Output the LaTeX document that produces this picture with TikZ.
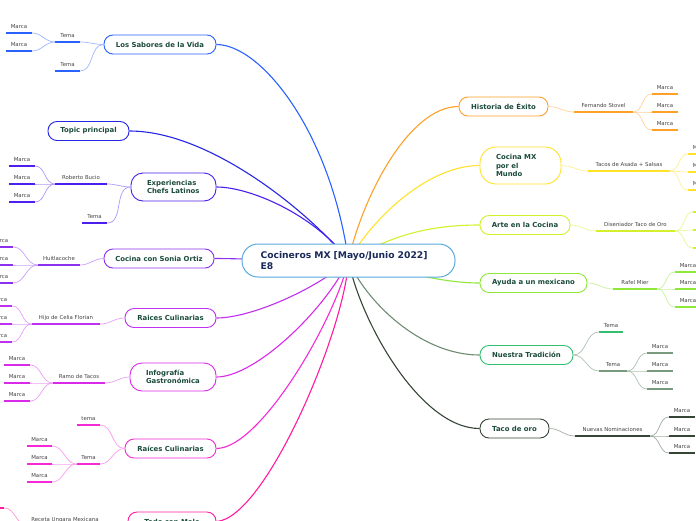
\documentclass[tikz,border=0pt]{standalone}
\usepackage{fontspec}
\setmainfont{DejaVu Sans}
\usetikzlibrary{calc,backgrounds}
\definecolor{cLS}{HTML}{2A62FF}
\definecolor{cTP}{HTML}{2626E6}
\definecolor{cEX}{HTML}{4C1EF0}
\definecolor{cSO}{HTML}{8C30F0}
\definecolor{cRA}{HTML}{C030F0}
\definecolor{cIN}{HTML}{D82AE8}
\definecolor{cRB}{HTML}{F52AD6}
\definecolor{cBT}{HTML}{FF1AA0}
\definecolor{cHI}{HTML}{FFA128}
\definecolor{cMX}{HTML}{FFE22A}
\definecolor{cAR}{HTML}{D4F02A}
\definecolor{cAY}{HTML}{8EE83A}
\definecolor{cNT}{HTML}{34C070}
\definecolor{cNG}{HTML}{7A9A80}
\definecolor{cTO}{HTML}{364636}
\definecolor{cCE}{HTML}{5AA9DC}
\definecolor{topictext}{HTML}{1B4B3B}
\definecolor{centertext}{HTML}{1A2A5A}
\definecolor{subtext}{HTML}{444444}
\tikzset{
  topic/.style={draw=#1, line width=0.9pt, rounded corners=9pt, fill=white, text=topictext,
    font=\fontsize{6.9}{8.4}\selectfont\bfseries, inner sep=0pt, minimum height=19pt, align=center},
  tall/.style={align=left, text width=#1, inner xsep=16pt, minimum height=28pt, rounded corners=12pt},
  subt/.style={inner sep=0pt, text height=4pt, text depth=4.8pt, font=\fontsize{5.4}{6}\selectfont, text=subtext, anchor=south},
  uline/.style={line width=1.5pt},
  mainlink/.style={line width=1.1pt},
  sublink/.style={line width=0.7pt},
}
\newcommand\SubN[6]{%
  \node[subt, minimum width={(#3)-(#2)}] (#1) at ({((#2)+(#3))/2},#4) {#5};
  \draw[uline,#6] (#1.south west) -- (#1.south east);
}
\begin{document}
\begin{tikzpicture}[x=1pt,y=-1pt]
\useasboundingbox (0,0) rectangle (696,520);
% central
\node[draw=cCE, line width=1pt, fill=white, rounded corners=16pt, text width=176pt, inner xsep=18.5pt,
  inner ysep=0pt, minimum height=33pt, align=left, font=\fontsize{9.2}{10.6}\selectfont\bfseries, text=centertext]
  (c) at (348.5,260.5) {Cocineros MX [Mayo/Junio 2022]\\E8};
% left topics
\node[topic=cLS, minimum width=112pt] (ls) at (160,44.5) {Los Sabores de la Vida};
\node[topic=cTP, minimum width=81pt] (tp) at (88.5,131) {Topic principal};
\node[topic=cEX, tall=53pt] (ex) at (173.5,187) {Experiencias\\Chefs Latinos};
\node[topic=cSO, minimum width=110pt] (so) at (159,258.5) {Cocina con Sonia Ortiz};
\node[topic=cRA, minimum width=91pt] (ra) at (170.5,318) {Raices Culinarias};
\node[topic=cIN, tall=54pt] (in) at (173,377) {Infografía\\Gastronómica};
\node[topic=cRB, minimum width=91pt] (rb) at (170.5,448.5) {Raíces Culinarias};
\node[topic=cBT, minimum width=88pt] (bt) at (172,521.5) {Todo con Mole};
% right topics
\node[topic=cHI, minimum width=89pt] (hi) at (503.5,106.5) {Historia de Éxito};
\node[topic=cMX, align=left, text width=49pt, inner xsep=16pt, minimum height=37pt, rounded corners=16pt] (mx) at (520.5,165.5) {Cocina MX\\por el\\Mundo};
\node[topic=cAR, minimum width=90pt] (ar) at (525,225) {Arte en la Cocina};
\node[topic=cAY, minimum width=107pt] (ay) at (533.5,283) {Ayuda a un mexicano};
\node[topic=cNT, minimum width=93pt] (nt) at (526.5,355) {Nuestra Tradición};
\node[topic=cTO, minimum width=69pt] (to) at (514.5,428.5) {Taco de oro};
% main links
\begin{scope}[on background layer]
\fill[white] (0,0) rectangle (696,520);
\draw[mainlink,cLS] (ls.east) .. controls ($(ls.east)+(44,0)$) and (330,130) .. (c.center);
\draw[mainlink,cTP] (tp.east) .. controls ($(tp.east)+(80,0)$) and (308,211) .. (c.center);
\draw[mainlink,cEX] (ex.east) .. controls ($(ex.east)+(34,0)$) and (315,215) .. (c.center);
\draw[mainlink,cSO] (so.east) .. controls ($(so.east)+(26,0)$) and (300,261) .. (c.center);
\draw[mainlink,cRA] (ra.east) .. controls ($(ra.east)+(34,0)$) and (315,290) .. (c.center);
\draw[mainlink,cIN] (in.east) .. controls ($(in.east)+(39,0)$) and (325,310) .. (c.center);
\draw[mainlink,cRB] (rb.east) .. controls ($(rb.east)+(44,0)$) and (335,320) .. (c.center);
\draw[mainlink,cBT] (bt.east) .. controls ($(bt.east)+(49,-3)$) and (345,330) .. (c.center);
\draw[mainlink,cHI] (hi.west) .. controls ($(hi.west)+(-49,0)$) and (363,195) .. (c.center);
\draw[mainlink,cMX] (mx.west) .. controls ($(mx.west)+(-50,0)$) and (375,215) .. (c.center);
\draw[mainlink,cAR] (ar.west) .. controls ($(ar.west)+(-60,0)$) and (385,240) .. (c.center);
\draw[mainlink,cAY] (ay.west) .. controls ($(ay.west)+(-40,0)$) and (400,270) .. (c.center);
\draw[mainlink,cNG!90!black] (nt.west) .. controls ($(nt.west)+(-60,0)$) and (365,300) .. (c.center);
\draw[mainlink,cTO] (to.west) .. controls ($(to.west)+(-60,0)$) and (360,320) .. (c.center);
\end{scope}
% ---- sub topics left
\SubN{lsA}{55}{80}{42}{Tema}{cLS}
\SubN{lsA1}{6}{32}{33}{Marca}{cLS}
\SubN{lsA2}{6}{32}{51}{Marca}{cLS}
\SubN{lsB}{55}{80}{71}{Tema}{cLS}
\draw[sublink,cLS!45] (ls.west) to[out=180,in=0] (lsA.south east);
\draw[sublink,cLS!45] (ls.west) to[out=180,in=0] (lsB.south east);
\draw[sublink,cLS!45] (lsA.south west) to[out=180,in=0] (lsA1.south east);
\draw[sublink,cLS!45] (lsA.south west) to[out=180,in=0] (lsA2.south east);
\SubN{exA}{55}{107}{184}{Roberto Bucio}{cEX}
\SubN{exA1}{9}{35}{166}{Marca}{cEX}
\SubN{exA2}{9}{35}{184}{Marca}{cEX}
\SubN{exA3}{9}{35}{202}{Marca}{cEX}
\SubN{exB}{82}{107}{223}{Tema}{cEX}
\draw[sublink,cEX!45] (ex.west) to[out=180,in=0] (exA.south east);
\draw[sublink,cEX!45] (ex.west) to[out=180,in=0] (exB.south east);
\draw[sublink,cEX!45] (exA.south west) to[out=180,in=0] (exA1.south east);
\draw[sublink,cEX!45] (exA.south west) to[out=180,in=0] (exA2.south east);
\draw[sublink,cEX!45] (exA.south west) to[out=180,in=0] (exA3.south east);
\SubN{soA}{38}{80}{265}{Huitlacoche}{cSO}
\SubN{soA1}{-13}{13}{247}{Marca}{cSO}
\SubN{soA2}{-13}{13}{265}{Marca}{cSO}
\SubN{soA3}{-13}{13}{283}{Marca}{cSO}
\draw[sublink,cSO!45] (so.west) to[out=180,in=0] (soA.south east);
\draw[sublink,cSO!45] (soA.south west) to[out=180,in=0] (soA1.south east);
\draw[sublink,cSO!45] (soA.south west) to[out=180,in=0] (soA2.south east);
\draw[sublink,cSO!45] (soA.south west) to[out=180,in=0] (soA3.south east);
\SubN{raA}{32}{100}{324}{Hijo de Celia Florian}{cRA}
\SubN{raA1}{-14}{12}{306}{Marca}{cRA}
\SubN{raA2}{-14}{12}{324}{Marca}{cRA}
\SubN{raA3}{-14}{12}{342}{Marca}{cRA}
\draw[sublink,cRA!45] (ra.west) to[out=180,in=0] (raA.south east);
\draw[sublink,cRA!45] (raA.south west) to[out=180,in=0] (raA1.south east);
\draw[sublink,cRA!45] (raA.south west) to[out=180,in=0] (raA2.south east);
\draw[sublink,cRA!45] (raA.south west) to[out=180,in=0] (raA3.south east);
\SubN{inA}{53}{105}{383}{Ramo de Tacos}{cIN}
\SubN{inA1}{4}{30}{365}{Marca}{cIN}
\SubN{inA2}{4}{30}{383}{Marca}{cIN}
\SubN{inA3}{4}{30}{401}{Marca}{cIN}
\draw[sublink,cIN!45] (in.west) to[out=180,in=0] (inA.south east);
\draw[sublink,cIN!45] (inA.south west) to[out=180,in=0] (inA1.south east);
\draw[sublink,cIN!45] (inA.south west) to[out=180,in=0] (inA2.south east);
\draw[sublink,cIN!45] (inA.south west) to[out=180,in=0] (inA3.south east);
\SubN{rbA}{77}{100}{425}{tema}{cRB}
\SubN{rbB}{77}{100}{464}{Tema}{cRB}
\SubN{rbB1}{27}{52}{446}{Marca}{cRB}
\SubN{rbB2}{27}{52}{464}{Marca}{cRB}
\SubN{rbB3}{27}{52}{482}{Marca}{cRB}
\draw[sublink,cRB!45] (rb.west) to[out=180,in=0] (rbA.south east);
\draw[sublink,cRB!45] (rb.west) to[out=180,in=0] (rbB.south east);
\draw[sublink,cRB!45] (rbB.south west) to[out=180,in=0] (rbB1.south east);
\draw[sublink,cRB!45] (rbB.south west) to[out=180,in=0] (rbB2.south east);
\draw[sublink,cRB!45] (rbB.south west) to[out=180,in=0] (rbB3.south east);
\SubN{btA}{28}{102}{526}{Receta Ungara Mexicana}{cBT}
\SubN{btA1}{-22}{4}{508}{Marca}{cBT}
\draw[sublink,cBT!45] (bt.west) to[out=180,in=0] (btA.south east);
\draw[sublink,cBT!45] (btA.south west) to[out=180,in=0] (btA1.south east);
% ---- sub topics right
\SubN{hiA}{574}{633}{112}{Fernando Stovel}{cHI}
\SubN{hiA1}{652}{678}{94}{Marca}{cHI}
\SubN{hiA2}{652}{678}{112}{Marca}{cHI}
\SubN{hiA3}{652}{678}{130}{Marca}{cHI}
\draw[sublink,cHI!45] (hi.east) to[out=0,in=180] (hiA.south west);
\draw[sublink,cHI!45] (hiA.south east) to[out=0,in=180] (hiA1.south west);
\draw[sublink,cHI!45] (hiA.south east) to[out=0,in=180] (hiA2.south west);
\draw[sublink,cHI!45] (hiA.south east) to[out=0,in=180] (hiA3.south west);
\SubN{mxA}{588}{670}{171}{Tacos de Asada + Salsas}{cMX}
\SubN{mxA1}{688}{714}{154}{Marca}{cMX}
\SubN{mxA2}{688}{714}{172}{Marca}{cMX}
\SubN{mxA3}{688}{714}{190}{Marca}{cMX}
\draw[sublink,cMX!50] (mx.east) to[out=0,in=180] (mxA.south west);
\draw[sublink,cMX!50] (mxA.south east) to[out=0,in=180] (mxA1.south west);
\draw[sublink,cMX!50] (mxA.south east) to[out=0,in=180] (mxA2.south west);
\draw[sublink,cMX!50] (mxA.south east) to[out=0,in=180] (mxA3.south west);
\SubN{arA}{596}{675}{231}{Diseniador Taco de Oro}{cAR}
\SubN{arA1}{693}{719}{212}{}{cAR}
\SubN{arA2}{693}{719}{230}{}{cAR}
\SubN{arA3}{693}{719}{248}{}{cAR}
\draw[sublink,cAR!50] (ar.east) to[out=0,in=180] (arA.south west);
\draw[sublink,cAR!50] (arA.south east) to[out=0,in=180] (arA1.south west);
\draw[sublink,cAR!50] (arA.south east) to[out=0,in=180] (arA2.south west);
\draw[sublink,cAR!50] (arA.south east) to[out=0,in=180] (arA3.south west);
\SubN{ayA}{613}{657}{289}{Rafel Mier}{cAY}
\SubN{ayA1}{675}{701}{272}{Marca}{cAY}
\SubN{ayA2}{675}{701}{289}{Marca}{cAY}
\SubN{ayA3}{675}{701}{307}{Marca}{cAY}
\draw[sublink,cAY!50] (ay.east) to[out=0,in=180] (ayA.south west);
\draw[sublink,cAY!50] (ayA.south east) to[out=0,in=180] (ayA1.south west);
\draw[sublink,cAY!50] (ayA.south east) to[out=0,in=180] (ayA2.south west);
\draw[sublink,cAY!50] (ayA.south east) to[out=0,in=180] (ayA3.south west);
\SubN{ntA}{599}{623}{332}{Tema}{cNT}
\SubN{ntB}{599}{627}{371}{Tema}{cNG}
\SubN{ntB1}{647}{673}{353}{Marca}{cNG}
\SubN{ntB2}{647}{673}{371}{Marca}{cNG}
\SubN{ntB3}{647}{673}{389}{Marca}{cNG}
\draw[sublink,cNG!60] (nt.east) to[out=0,in=180] (ntA.south west);
\draw[sublink,cNG!60] (nt.east) to[out=0,in=180] (ntB.south west);
\draw[sublink,cNG!60] (ntB.south east) to[out=0,in=180] (ntB1.south west);
\draw[sublink,cNG!60] (ntB.south east) to[out=0,in=180] (ntB2.south west);
\draw[sublink,cNG!60] (ntB.south east) to[out=0,in=180] (ntB3.south west);
\SubN{toA}{575}{650}{436}{Nuevas Nominaciones}{cTO}
\SubN{toA1}{669}{695}{417}{Marca}{cTO}
\SubN{toA2}{669}{695}{436}{Marca}{cTO}
\SubN{toA3}{669}{695}{453}{Marca}{cTO}
\draw[sublink,cTO!45] (to.east) to[out=0,in=180] (toA.south west);
\draw[sublink,cTO!45] (toA.south east) to[out=0,in=180] (toA1.south west);
\draw[sublink,cTO!45] (toA.south east) to[out=0,in=180] (toA2.south west);
\draw[sublink,cTO!45] (toA.south east) to[out=0,in=180] (toA3.south west);
\end{tikzpicture}
\end{document}
